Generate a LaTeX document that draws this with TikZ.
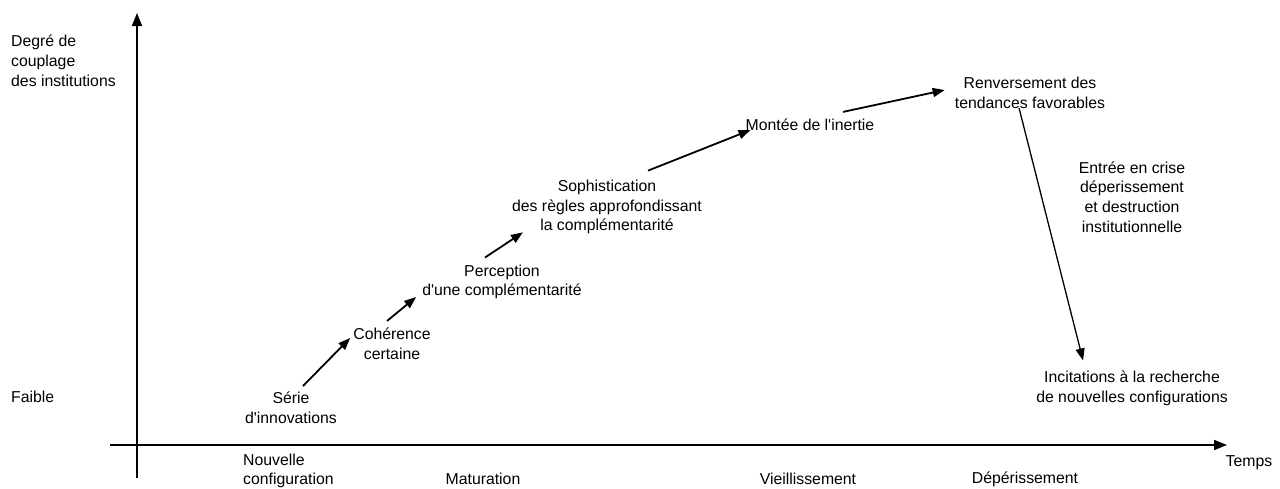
\documentclass[tikz,border=0pt]{standalone}
\usepackage{fontspec}
\setmainfont{Liberation Sans}
\usetikzlibrary{arrows.meta}

\tikzset{
  etape/.style={align=center, inner sep=6pt},
  fleche/.style={-{Triangle[length=12pt,width=9pt]}, line width=1.8pt},
  axe/.style={-{Triangle[length=13pt,width=10pt]}, line width=1.6pt}
}

\begin{document}
\begin{tikzpicture}[x=1pt, y=-1pt, font=\fontsize{15.8}{19.8}\selectfont]
    \useasboundingbox (0,0) rectangle (1280,488);

    % axes
    \coordinate (O1) at (110,445);
    \coordinate (X) at (1227,445);
    \coordinate (O2) at (137,478);
    \coordinate (Y) at (137,13);
    \draw[axe] (O1) -- (X);
    \draw[axe] (O2) -- (Y);

    \node[anchor=west, align=left, inner sep=0] (degre) at (11,61) {Degré de\\couplage\\des institutions};
    \node[anchor=west, inner sep=0] (faible) at (11,397) {Faible};
    \node[inner sep=0] (temps) at (1249,463) {Temps};

    \node[anchor=west, align=left, inner sep=0] (nouv) at (243,471) {Nouvelle\\configuration};
    \node[inner sep=0] (matur) at (483,479) {Maturation};
    \node[inner sep=0] (vieil) at (808,479) {Vieillissement};
    \node[inner sep=0] (deper) at (1025,479) {Dépérissement};

    % etapes
    \node[etape] (serie) at (291,408) {Série\\d\textquotesingle innovations};
    \node[etape] (coh) at (392,344) {Cohérence\\certaine};
    \node[etape] (perc) at (502,282) {Perception\\d\textquotesingle une complémentarité};
    \node[etape] (soph) at (607,207) {Sophistication\\des règles approfondissant\\la complémentarité};
    \node[etape] (mont) at (810,125) {Montée de l\textquotesingle inertie};
    \node[etape] (renv) at (1030,93) {Renversement des\\tendances favorables};
    \node[etape] (crise) at (1132,197) {Entrée en crise\\déperissement\\et destruction\\institutionnelle};
    \node[etape] (incit) at (1132,388) {Incitations à la recherche\\de nouvelles configurations};

    \draw[fleche] ([shift={(12,0)}]serie.north) -- ([shift={(3,-6)}]coh.west);
    \draw[fleche] ([shift={(-5,-1)}]coh.north) -- ([shift={(0,15)}]perc.west);
    \draw[fleche] ([shift={(-17,-1)}]perc.north) -- ([shift={(17,-8)}]soph.south west);
    \draw[fleche] ([shift={(41,-3)}]soph.north) -- ([shift={(11,5)}]mont.west);
    \draw[fleche] ([shift={(33,-1)}]mont.north) -- ([shift={(-4,-3)}]renv.west);
    \draw[fleche, line width=1.3pt] ([shift={(-11,-7)}]renv.south) -- ([shift={(53,-4)}]incit.north west);
\end{tikzpicture}
\end{document}
